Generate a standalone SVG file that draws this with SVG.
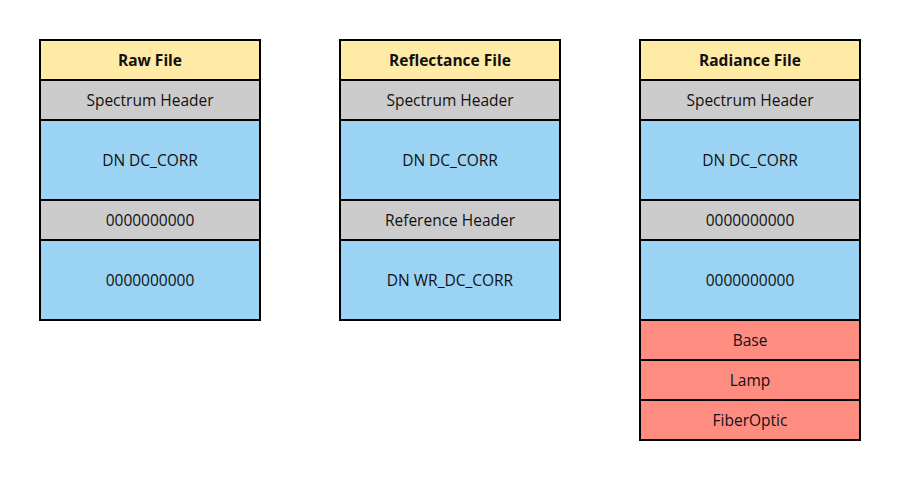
<svg xmlns="http://www.w3.org/2000/svg" width="900" height="480" viewBox="0 0 900 480">
<style>
rect{stroke:#000;stroke-width:2}
.h{fill:#ffeaa6}.g{fill:#cccccc}.b{fill:#9ad3f3}.r{fill:#ff8c80}
text{font-family:"Open Sans","Liberation Sans",sans-serif;font-size:15.5px;fill:#111;text-anchor:middle;dominant-baseline:central}
.t{font-weight:bold}
</style>
<rect width="900" height="480" fill="#fff" style="stroke:none"/>
<g id="raw">
<rect class="h" x="40" y="40" width="220" height="40"/><text class="t" x="150" y="59.5">Raw File</text>
<rect class="g" x="40" y="80" width="220" height="40"/><text x="150" y="99.5">Spectrum Header</text>
<rect class="b" x="40" y="120" width="220" height="80"/><text x="150" y="159.5">DN DC_CORR</text>
<rect class="g" x="40" y="200" width="220" height="40"/><text x="150" y="219.5">0000000000</text>
<rect class="b" x="40" y="240" width="220" height="80"/><text x="150" y="279.5">0000000000</text>
</g>
<g id="reflectance">
<rect class="h" x="340" y="40" width="220" height="40"/><text class="t" x="450" y="59.5">Reflectance File</text>
<rect class="g" x="340" y="80" width="220" height="40"/><text x="450" y="99.5">Spectrum Header</text>
<rect class="b" x="340" y="120" width="220" height="80"/><text x="450" y="159.5">DN DC_CORR</text>
<rect class="g" x="340" y="200" width="220" height="40"/><text x="450" y="219.5">Reference Header</text>
<rect class="b" x="340" y="240" width="220" height="80"/><text x="450" y="279.5">DN WR_DC_CORR</text>
</g>
<g id="radiance">
<rect class="h" x="640" y="40" width="220" height="40"/><text class="t" x="750" y="59.5">Radiance File</text>
<rect class="g" x="640" y="80" width="220" height="40"/><text x="750" y="99.5">Spectrum Header</text>
<rect class="b" x="640" y="120" width="220" height="80"/><text x="750" y="159.5">DN DC_CORR</text>
<rect class="g" x="640" y="200" width="220" height="40"/><text x="750" y="219.5">0000000000</text>
<rect class="b" x="640" y="240" width="220" height="80"/><text x="750" y="279.5">0000000000</text>
<rect class="r" x="640" y="320" width="220" height="40"/><text x="750" y="339.5">Base</text>
<rect class="r" x="640" y="360" width="220" height="40"/><text x="750" y="379.5">Lamp</text>
<rect class="r" x="640" y="400" width="220" height="40"/><text x="750" y="419.5">FiberOptic</text>
</g>
<g id="connectors"/>
</svg>
